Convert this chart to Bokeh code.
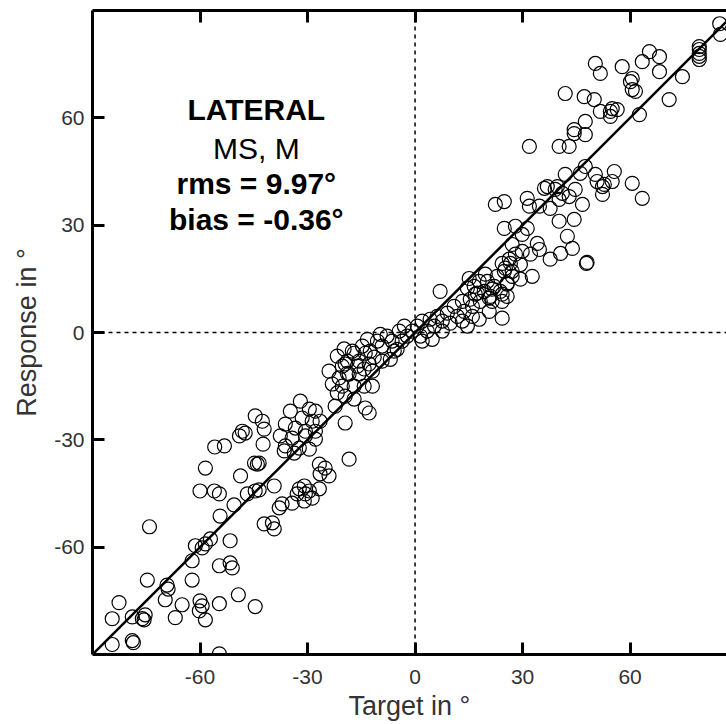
from bokeh.plotting import figure
from bokeh.models import Span, Label, FixedTicker, LinearAxis, Range1d
from bokeh.embed import file_html
from bokeh.resources import INLINE

# ---- data (degrees) ----
target = [
    -48.7, -60.0, -56.0, -54.6, -74.1, -46.8, -44.6, -43.5, -39.3, -50.5, -54.4, -42.1, -39.8, -39.3, -37.9,
    -57.1, -58.5, -61.3, -59.4, -51.6, -62.2, -54.6, -51.6, -51.0, -74.7, -69.2, -68.9, -62.2, -69.7, -82.6,
    -65.0, -60.0, -59.4, -60.2, -58.5, -54.6, -49.3, -44.6, -66.9, -75.3, -76.1, -75.6, -78.9, -84.5, -84.5,
    -78.9, -78.6, -54.6,
    -58.5, -44.6, -42.6, -42.1, -48.2, -47.4, -49.0, -55.9, -53.2, -42.4, -44.8, -43.5, -44.0,
    -32.0, -34.8, -29.5, -27.8, -31.5, -28.7, -26.5, -36.2, -33.4, -30.6, -27.8, -37.6, -34.3, -30.6, -27.8,
    -36.2, -32.3, -29.5, -36.5, -33.7,
    -26.7, -25.1, -24.0, -26.5, -32.3, -30.9, -29.5, -30.6, -32.9, -28.7, -26.7, -37.1, -34.3, -30.9, -18.4,
    -19.8, -17.0, -13.9, -15.6, -19.5, -24.0, -21.2, -18.4, -15.6, -12.8, -23.1, -20.3, -17.0, -14.2, -11.9,
    -21.7, -19.5, -17.0, -22.3, -13.9, -12.8, -19.5,
    -21.7, -18.9, -17.5, -14.7, -12.5, -10.5, -11.4, -9.2, -7.8, -9.7, -6.4, -4.4, -5.8, -3.6, -2.2, -0.8,
    -3.0, 0.6, 2.0, 1.5, 3.4, 4.2, 5.4, 6.2, 7.6, 9.0, 9.8, 10.9, 11.8, 13.2, 13.7, 15.4, 16.0, 17.4, 16.5,
    18.2, 19.3, 20.2, 21.0, 22.1, 22.9, 23.8, 24.9, 25.7, 26.6, 27.1, -16.1, -14.2, -11.9, -9.2, -6.9, -5.0,
    -18.9, -20.3, -13.3, 2.0, 4.8, 7.6, 13.2, 16.0, 14.6, 21.5, 24.3, 25.7,
    7.0, 17.9, 20.7, 24.3,
    31.9, 40.2, 43.0, 44.4, 47.5, 41.9, 46.1, 47.5, 50.3, 50.8, 55.6, 55.0, 52.3, 52.3, 60.6, 63.4, 36.1,
    39.1, 41.1, 43.0, 44.7, 40.2, 22.4, 24.9, 31.3, 31.9, 34.7, 37.7, 46.7, 40.2, 44.4, 24.9, 28.0, 31.3,
    29.9, 42.5, 43.9, 40.6, 37.7, 34.1, 34.7, 32.2, 29.9, 27.1, 28.0, 26.3, 24.3, 25.2, 27.1, 29.4, 32.7,
    29.4, 25.7, 24.3, 21.5, 19.6, 17.9, 15.1, 14.6, 16.8, 20.7, 47.8, 48.0,
    85.0, 85.2, 79.3, 79.3, 79.3, 79.3, 79.3, 74.6, 70.9, 62.6, 50.3, 51.7, 57.8, 60.6, 60.1, 60.6, 61.5,
    63.4, 65.4, 68.2, 68.2, 41.9, 47.2, 50.0, 51.7, 54.5, 55.0, 56.4, 54.5, 47.5, 44.4, 52.8, 36.9, 39.7,
]
response = [
    -40.1, -44.3, -44.3, -45.1, -54.3, -45.1, -44.3, -44.0, -42.9, -48.2, -51.3, -53.5, -53.2, -54.9, -49.0,
    -57.7, -59.1, -59.6, -60.2, -58.2, -63.8, -65.2, -64.4, -65.8, -69.2, -70.6, -71.7, -69.2, -74.7, -75.5,
    -76.1, -75.0, -76.4, -77.8, -80.3, -75.8, -73.3, -76.6, -79.7, -78.9, -80.0, -80.3, -79.5, -80.0, -87.2,
    -86.1, -86.7, -89.8,
    -37.9, -23.3, -24.8, -27.0, -27.6, -28.1, -28.9, -32.0, -31.7, -31.2, -36.5, -36.5, -36.8,
    -19.2, -22.0, -21.4, -22.0, -23.9, -24.8, -24.8, -25.6, -26.7, -27.6, -27.6, -28.9, -29.5, -28.9, -29.8,
    -31.7, -32.3, -32.6, -33.1, -33.7,
    -36.8, -37.9, -40.1, -39.5, -43.7, -42.9, -44.3, -45.1, -45.1, -46.3, -43.7, -47.9, -47.7, -47.1, -35.4,
    -4.6, -5.8, -5.8, -8.0, -8.8, -10.8, -12.7, -11.6, -11.6, -8.8, -14.4, -15.0, -15.0, -15.0, -15.0,
    -16.9, -17.8, -18.6, -20.6, -21.1, -22.5, -25.3,
    -6.6, -8.0, -5.2, -3.8, -5.2, -2.4, -6.9, -3.8, -1.0, -0.5, -2.4, 0.4, -5.2, -2.4, -1.0, 0.4,
    1.8, 1.8, 3.2, -1.0, 0.4, 3.7, 1.8, 4.5, 3.2, 5.4, 2.6, 7.3, 4.5, 8.7, 5.9, 9.3, 7.3, 11.0, 12.9,
    8.7, 11.5, 14.3, 10.1, 12.9, 15.7, 11.5, 17.1, 13.8, 19.3, 15.7, -9.4, -10.2, -10.8, -8.0, -7.5, -4.7,
    -11.4, -9.4, -1.9, -2.4, -1.9, 0.4, 3.2, 4.5, 1.8, 8.7, 8.7, 10.1,
    11.5, 3.7, 5.9, 4.0,
    52.0, 52.0, 52.0, 55.6, 55.3, 44.2, 44.5, 46.4, 44.2, 42.2, 45.0, 42.2, 40.8, 38.6, 41.7, 37.5, 40.3,
    40.0, 38.9, 38.0, 40.0, 37.2, 35.8, 36.6, 37.5, 35.3, 35.3, 34.7, 35.8, 31.1, 31.6, 29.1, 29.7, 29.1,
    27.4, 26.9, 23.5, 22.1, 20.5, 24.9, 23.2, 21.9, 22.7, 24.6, 21.9, 20.5, 19.3, 18.0, 17.1, 19.0, 15.7,
    14.9, 13.5, 10.7, 12.1, 16.3, 14.3, 15.1, 12.4, 10.7, 9.6, 19.3, 19.6,
    86.3, 83.3, 79.9, 79.1, 78.0, 77.2, 76.3, 71.5, 65.1, 60.9, 75.2, 72.4, 74.3, 71.0, 70.1, 67.9, 67.4,
    75.7, 78.5, 77.1, 72.9, 66.8, 65.9, 65.1, 61.8, 61.8, 62.6, 62.3, 60.4, 59.0, 56.7, 41.4, 40.8, 40.8,
]
diag = [-90, 90]
ticks = [-60, -30, 0, 30, 60]
tick_labels = ["-60", "-30", "0", "30", "60"]
annotation = ["LATERAL", "MS, M", "rms = 9.97\u00b0", "bias = -0.36\u00b0"]

FONT = "Liberation Sans"

p = figure(frame_width=634, frame_height=644, output_backend="svg", toolbar_location=None,
           x_range=Range1d(-90, 86.9), y_range=Range1d(-90, 90),
           x_axis_type=None, y_axis_type=None,
           min_border_left=92, min_border_right=0, min_border_top=10, min_border_bottom=70)
p.outline_line_color = None
p.background_fill_color = "white"
p.border_fill_color = "white"

bottom = LinearAxis(axis_label="Target in \u00b0")
left = LinearAxis(axis_label="Response in \u00b0")
top = LinearAxis()
p.add_layout(bottom, "below")
p.add_layout(left, "left")
p.add_layout(top, "above")

for ax in [bottom, left, top]:
    ax.ticker = FixedTicker(ticks=ticks)
    ax.axis_line_width = 3
    ax.axis_line_color = "black"
    ax.major_tick_in = 12
    ax.major_tick_out = 0
    ax.major_tick_line_width = 3
    ax.major_tick_line_color = "black"
    ax.minor_tick_line_color = None
    ax.major_label_text_font = FONT
    ax.major_label_text_font_size = "21px"
    ax.major_label_text_color = "#333333"
    ax.axis_label_text_font = FONT
    ax.axis_label_text_font_size = "27px"
    ax.axis_label_text_font_style = "normal"
    ax.axis_label_text_color = "#333333"

for ax in [bottom, left]:
    ax.major_label_overrides = dict(zip(ticks, tick_labels))

top.major_label_overrides = {t: "" for t in ticks}
top.major_label_standoff = 0

bottom.major_label_standoff = 15
bottom.axis_label_standoff = 4
left.major_label_standoff = 8
left.axis_label_standoff = 9

p.add_layout(Span(location=0, dimension="height", line_color="black", line_width=1.5, line_dash="4 4"))
p.add_layout(Span(location=0, dimension="width", line_color="black", line_width=1.5, line_dash="4 4"))

p.line(diag, diag, line_color="black", line_width=2.5)
p.scatter(target, response, marker="circle", size=14, fill_color=None,
          line_color="black", line_width=1.2)

ys = [62.3, 51.4, 41.7, 31.6]
styles = ["bold", "normal", "bold", "bold"]
for t, yv, st in zip(annotation, ys, styles):
    p.add_layout(Label(x=-44.3, y=yv, text=t, text_align="center", text_baseline="alphabetic",
                       text_font=FONT, text_font_size="30px", text_font_style=st, text_color="black"))

open("out.html", "w").write(file_html(p, INLINE))
